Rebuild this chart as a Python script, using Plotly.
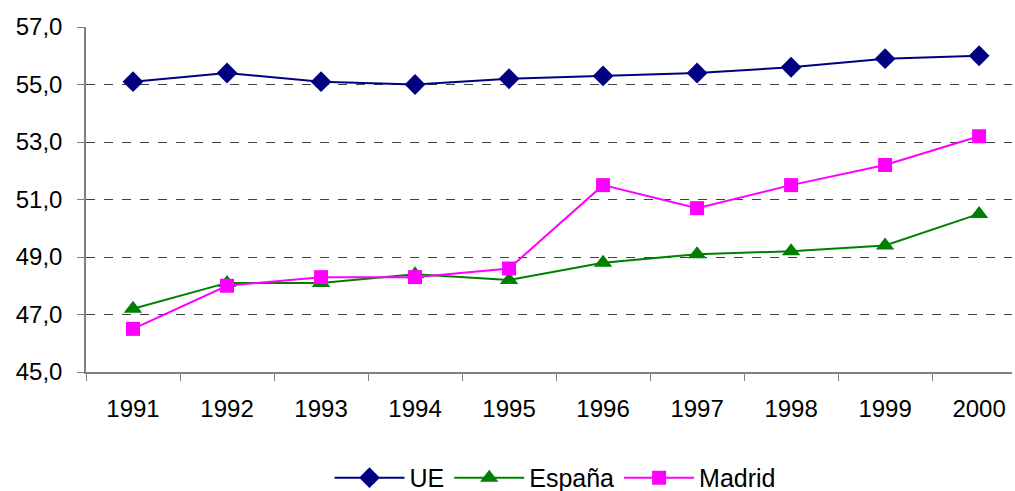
import plotly.graph_objs as go

years = ['1991', '1992', '1993', '1994', '1995', '1996', '1997', '1998', '1999', '2000']
ue = [55.1, 55.4, 55.1, 55.0, 55.2, 55.3, 55.4, 55.6, 55.9, 56.0]
espana = [47.2, 48.1, 48.1, 48.4, 48.2, 48.8, 49.1, 49.2, 49.4, 50.5]
madrid = [46.5, 48.0, 48.3, 48.3, 48.6, 51.5, 50.7, 51.5, 52.2, 53.2]

font = 'Liberation Sans, Arial, sans-serif'

data = [
    go.Scatter(x=years, y=ue, name='UE', mode='lines+markers',
               line=dict(color='#000080', width=2),
               marker=dict(symbol='diamond', size=16, color='#000080')),
    go.Scatter(x=years, y=espana, name='España', mode='lines+markers',
               line=dict(color='#008000', width=2),
               marker=dict(symbol='triangle-up', size=16, color='#008000')),
    go.Scatter(x=years, y=madrid, name='Madrid', mode='lines+markers',
               line=dict(color='#FF00FF', width=2),
               marker=dict(symbol='square', size=14, color='#FF00FF')),
    # invisible trace to carry the dashed grid on a second axis
    go.Scatter(x=years, y=ue, yaxis='y2', showlegend=False, hoverinfo='skip',
               mode='lines', line=dict(width=0), opacity=0),
]

layout = go.Layout(
    width=1015, height=491,
    margin=dict(l=86, r=3, t=27, b=119, autoexpand=False),
    paper_bgcolor='white', plot_bgcolor='white',
    separators=',.',
    font=dict(family=font, size=24, color='black'),
    xaxis=dict(type='category', range=[-0.5, 9.35], automargin=False,
               showline=True, linecolor='#808080', linewidth=1.5,
               ticks='outside', tickson='boundaries', ticklen=7,
               tickcolor='#808080', showgrid=False, ticklabelstandoff=14,
               tickfont=dict(size=24)),
    yaxis=dict(range=[45, 57], tickvals=[45, 47, 49, 51, 53, 55, 57],
               automargin=False, ticklabelstandoff=10,
               tickformat='.1f', showline=True, linecolor='#808080',
               linewidth=1.5, ticks='outside', ticklen=7, tickcolor='#808080',
               showgrid=False, zeroline=False, tickfont=dict(size=24)),
    yaxis2=dict(range=[45, 57], overlaying='y', tickvals=[47, 49, 51, 53, 55],
                automargin=False,
                showticklabels=False, showgrid=True, gridcolor='#404040',
                gridwidth=1, griddash='dash', zeroline=False),
    legend=dict(orientation='h', x=0.507, xanchor='center', y=-0.307,
                yanchor='middle', font=dict(size=25), itemwidth=70,
                tracegroupgap=0),
    showlegend=True,
)

fig = go.Figure(data=data, layout=layout)
fig.write_html('out.html', config={'displayModeBar': False},
               post_script="document.body.style.margin='0';")
